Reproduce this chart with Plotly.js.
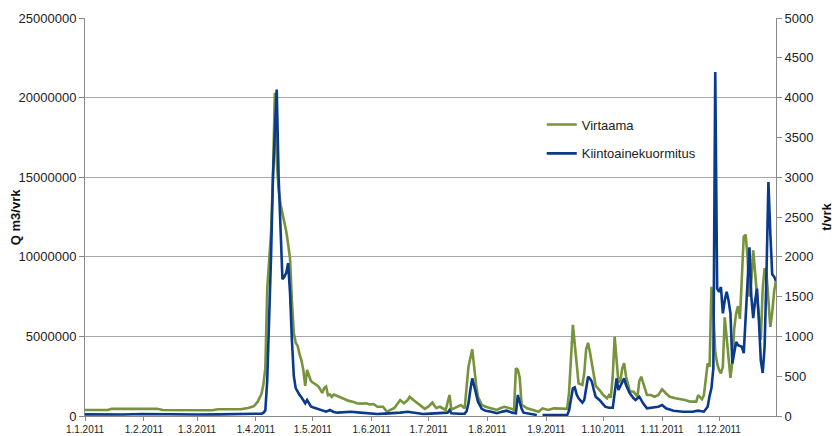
<!DOCTYPE html>
<html><head><meta charset="utf-8">
<script src="https://cdn.plot.ly/plotly-3.0.1.min.js"></script>
<style>html,body{margin:0;padding:0;background:#fff}#chart{width:834px;height:436px}</style>
</head><body><div id="chart"></div>
<script>
// päivä = päiviä 1.1.2011 lähtien
const virtaamaPaiva = [0,6,12,14,25,38,41,55,67,70,82,86,89,91,93,94,95,96,97,98,99,100,101,102,103,104,105,106,107,108,109,110,111,112,113,114,115,116,117,118,119,120,121,122,123,124,125,126,127,128,129,130,131,132,133,135,137,139,141,143,146,148,150,152,154,157,159,161,163,166,168,170,171,173,175,177,179,181,183,185,187,190,192,193,196,198,200,201,202,204,205,206,207,209,211,214,217,219,221,224,226,227,228,229,230,233,236,239,241,244,247,250,253,254,255,256,257,258,259,260,262,263,264,265,266,267,268,269,271,273,275,276,277,278,279,280,281,282,283,284,285,287,289,291,292,293,294,296,298,300,302,304,306,308,311,314,316,319,322,323,325,326,327,328,329,330,331,332,333,334,335,336,337,338,339,340,341,342,343,344,345,346,347,348,349,350,351,352,353,354,355,356,357,358,359,360,361,362,363,364];
const virtaamaArvo = [380000,380000,380000,450000,460000,450000,380000,360000,360000,420000,420000,500000,620000,900000,1400000,2000000,3000000,8000000,9500000,11500000,15000000,20300000,16000000,14200000,13300000,12800000,12200000,11600000,10800000,9900000,7200000,5200000,4600000,4400000,3900000,3500000,2900000,1900000,2900000,2500000,2200000,2100000,2050000,1950000,1850000,1600000,1450000,1750000,1850000,1300000,1350000,1200000,1350000,1300000,1250000,1100000,1000000,950000,900000,800000,780000,800000,720000,750000,580000,580000,270000,400000,500000,1000000,800000,1000000,1210000,1000000,800000,600000,450000,600000,840000,500000,580000,380000,1320000,400000,580000,690000,480000,1800000,3100000,4190000,3000000,2000000,1210000,700000,580000,480000,380000,500000,580000,480000,380000,3000000,2900000,2400000,700000,480000,380000,270000,480000,380000,480000,480000,450000,450000,1500000,3500000,5720000,4500000,3000000,2050000,1950000,2700000,4200000,4600000,4000000,3300000,2500000,1900000,1630000,1320000,1110000,1300000,1150000,2500000,4980000,3500000,2100000,2200000,3000000,3310000,2500000,1550000,1530000,1210000,2200000,2470000,2050000,1320000,1320000,1210000,1320000,1680000,1430000,1210000,1110000,1050000,1000000,900000,900000,1320000,1050000,1300000,2500000,3310000,3100000,8120000,6500000,4000000,3300000,2890000,2680000,3100000,6200000,5000000,3800000,2400000,3400000,5500000,6450000,6900000,6100000,8500000,11260000,11400000,10000000,7500000,8500000,10400000,9000000,7500000,6000000,4800000,8000000,9280000,8960000,7200000,5600000,6500000,7800000,8540000];
const kuormaPaiva = [0,10,20,30,40,50,60,70,80,90,93,94,95,96,97,98,99,100,101,102,103,104,105,106,107,108,109,110,111,112,113,114,115,116,117,118,119,120,122,124,126,127,129,131,133,136,140,145,150,154,158,162,166,170,174,178,182,187,191,192,193,197,200,201,202,203,204,205,206,207,209,211,214,217,220,222,225,227,228,229,230,231,234,237,238,239,241,246,250,254,255,256,257,258,259,260,262,263,264,265,266,267,268,269,271,273,274,276,278,279,280,281,282,283,284,285,287,289,290,292,294,296,299,302,304,306,310,315,320,323,326,328,329,330,331,332,333,334,335,336,337,338,339,340,341,342,343,344,345,346,347,348,349,350,351,352,353,354,355,356,357,358,359,360,361,362,363,364];
const kuormaArvo = [20,15,18,25,20,22,18,20,25,28,30,40,70,450,1200,2000,3000,3500,4100,3000,2300,1720,1750,1800,1920,1550,950,500,350,300,265,235,205,160,200,150,120,110,95,75,60,54,75,50,42,50,54,42,35,25,30,33,42,54,40,25,30,33,42,75,35,28,30,60,160,330,473,380,290,180,90,65,54,35,55,67,42,35,264,170,90,42,33,15,13,null,13,13,22,13,70,200,348,360,270,222,167,200,330,494,470,431,330,243,201,150,117,104,104,285,473,327,380,411,473,390,285,222,201,243,159,97,104,117,138,97,67,54,54,67,54,117,250,350,600,4320,1600,1560,1620,1290,1450,1560,1450,1290,660,800,930,890,880,870,790,1300,1800,2120,1500,1230,1450,1600,1200,700,540,870,1800,2940,2300,1780,1750,1700];
const kuukausiTikit = ['2011-01-01','2011-02-01','2011-03-01','2011-04-01','2011-05-01','2011-06-01','2011-07-01','2011-08-01','2011-09-01','2011-10-01','2011-11-01','2011-12-01'];
const kuukausiTekstit = ['1.1.2011','1.2.2011','1.3.2011','1.4.2011','1.5.2011','1.6.2011','1.7.2011','1.8.2011','1.9.2011','1.10.2011','1.11.2011','1.12.2011'];
const vasenOtsikko = 'Q m3/vrk';
const oikeaOtsikko = 't/vrk';

function pvm(d){ return new Date(Date.UTC(2011,0,1+d)).toISOString().slice(0,10); }

const fontFam = '"Liberation Sans", Arial, sans-serif';
const traces = [
  {x: virtaamaPaiva.map(pvm), y: virtaamaArvo, name:'Virtaama', type:'scatter', mode:'lines',
   line:{color:'#77933C', width:2.6}, yaxis:'y', legendgroup:'a'},
  {x: kuormaPaiva.map(pvm), y: kuormaArvo, name:'Kiintoainekuormitus', type:'scatter', mode:'lines',
   line:{color:'#0A3A8C', width:2.6}, yaxis:'y2', connectgaps:false, legendgroup:'b'}
];
const layout = {
  width:834, height:436,
  margin:{l:85, r:58, t:18, b:20},
  paper_bgcolor:'#fff', plot_bgcolor:'#fff',
  font:{family:fontFam, color:'#222', size:13},
  showlegend:true,
  legend:{x:0.661, y:0.77, xanchor:'left', yanchor:'top', bgcolor:'rgba(0,0,0,0)', traceorder:'grouped', tracegroupgap:9, font:{size:13, color:'#222'}},
  xaxis:{type:'date', range:['2011-01-01','2011-12-31'], tickvals:kuukausiTikit, ticktext:kuukausiTekstit,
    ticks:'outside', ticklen:4, tickcolor:'#888', showline:true, linecolor:'#888', linewidth:1,
    showgrid:false, zeroline:false, tickfont:{size:10, color:'#222'}},
  yaxis:{range:[0,25000000], dtick:5000000, tickformat:'d', ticks:'outside', ticklen:5, tickcolor:'#888',
    showline:true, linecolor:'#888', gridcolor:'#a8a8a8', zeroline:false, tickfont:{size:13}},
  yaxis2:{range:[0,5000], dtick:500, overlaying:'y', side:'right', ticks:'outside', ticklen:5, tickcolor:'#888',
    showline:true, linecolor:'#888', showgrid:false, zeroline:false, tickfont:{size:13}},
  annotations:[
    {text:'<b>'+vasenOtsikko+'</b>', xref:'paper', yref:'paper', x:-0.101, y:0.5, textangle:-90, showarrow:false, xanchor:'center', yanchor:'middle', font:{size:13, color:'#111'}},
    {text:'<b>'+oikeaOtsikko+'</b>', xref:'paper', yref:'paper', x:1.072, y:0.5, textangle:-90, showarrow:false, xanchor:'center', yanchor:'middle', font:{size:13, color:'#111'}}
  ]
};
Plotly.newPlot('chart', traces, layout, {staticPlot:true, displayModeBar:false});
</script></body></html>
